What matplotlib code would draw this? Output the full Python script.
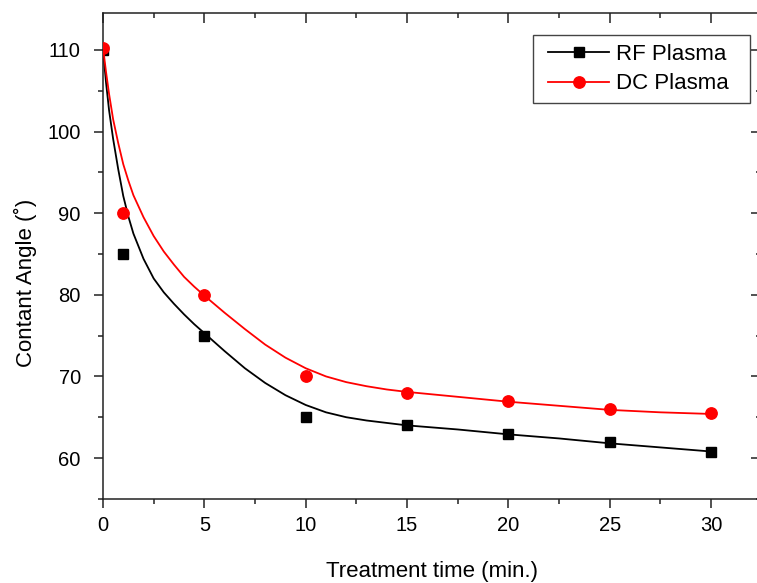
import matplotlib
matplotlib.use("Agg")
import matplotlib.pyplot as plt
from matplotlib.lines import Line2D
from matplotlib.patches import Rectangle
from matplotlib.ticker import MultipleLocator

plt.rcParams['font.family'] = ['Liberation Sans', 'DejaVu Sans']

# measured data
time_min = [0, 1, 5, 10, 15, 20, 25, 30]
rf_angle = [110.0, 85.0, 75.0, 65.0, 64.0, 63.0, 62.0, 60.8]
dc_angle = [110.2, 90.0, 80.0, 70.0, 68.0, 67.0, 66.0, 65.5]

# fitted curves
fit_t = [0, 0.15, 0.3, 0.5, 0.75, 1.0, 1.25, 1.5, 2.0, 2.5, 3.0, 3.5, 4.0, 4.5, 5.0, 6.0, 7.0, 8.0,
         9.0, 10.0, 11.0, 12.0, 13.0, 14.0, 15.0, 17.5, 20.0, 22.5, 25.0, 27.5, 30.0]
rf_fit = [110.0, 106.0, 102.6, 99.1, 95.4, 92.1, 89.6, 87.5, 84.4, 82.0, 80.3, 78.9, 77.6, 76.4,
          75.3, 73.1, 71.0, 69.2, 67.7, 66.5, 65.6, 65.0, 64.6, 64.3, 64.0, 63.5, 62.9, 62.4,
          61.8, 61.3, 60.8]
dc_fit = [110.3, 107.3, 104.6, 101.5, 98.6, 96.0, 94.0, 92.2, 89.5, 87.2, 85.3, 83.7, 82.2, 81.0,
          79.9, 77.8, 75.8, 73.9, 72.3, 71.0, 70.0, 69.3, 68.8, 68.4, 68.1, 67.5, 66.9, 66.4,
          65.9, 65.6, 65.4]

series_labels = ["RF Plasma", "DC Plasma"]
x_label = "Treatment time (min.)"
y_label = "Contant Angle (˚)"

fig = plt.figure(figsize=(7.57, 5.83), dpi=100)
W, H = 757, 583
L, R, T, B = 103, 761, 13, 499
ax = fig.add_axes([L / W, 1 - B / H, (R - L) / W, (B - T) / H])

ax.plot(fit_t, rf_fit, color='black', lw=1.3, zorder=2, solid_joinstyle='round')
ax.plot(time_min, rf_angle, ls='none', marker='s', ms=7, color='black', zorder=3)
ax.plot(fit_t, dc_fit, color='#ff0000', lw=1.3, zorder=4, solid_joinstyle='round')
ax.plot(time_min, dc_angle, ls='none', marker='o', ms=8.2, color='#ff0000', zorder=5)

ax.set_xlim(0, 32.46)
ax.set_ylim(54.98, 114.53)

spine_c = '#222222'
for s in ['left', 'bottom']:
    ax.spines[s].set_linewidth(1.1)
    ax.spines[s].set_color(spine_c)
ax.spines['top'].set_visible(False)
ax.spines['right'].set_visible(False)

ax.xaxis.set_major_locator(MultipleLocator(5))
ax.xaxis.set_minor_locator(MultipleLocator(2.5))
ax.set_yticks([60, 70, 80, 90, 100, 110])
ax.yaxis.set_minor_locator(MultipleLocator(5))

ax.tick_params(which='major', direction='out', length=6.5, width=1.1, color=spine_c,
               labelsize=14.5)
ax.tick_params(which='minor', direction='out', length=3.5, width=1.1, color=spine_c)
ax.tick_params(axis='x', which='major', pad=6)
ax.tick_params(axis='y', which='major', pad=9.5)

top = ax.secondary_xaxis('top')
top.xaxis.set_major_locator(MultipleLocator(5))
top.xaxis.set_minor_locator(MultipleLocator(2.5))
top.tick_params(which='major', direction='in', length=7, width=1.1, color=spine_c, labeltop=False)
top.tick_params(which='minor', direction='in', length=3.5, width=1.1, color=spine_c)
top.spines['top'].set_linewidth(1.1)
top.spines['top'].set_color(spine_c)

right = ax.secondary_yaxis('right')
right.set_yticks([60, 70, 80, 90, 100, 110])
right.yaxis.set_minor_locator(MultipleLocator(5))
right.tick_params(which='major', direction='in', length=7, width=1.1, color=spine_c, labelright=False)
right.tick_params(which='minor', direction='in', length=3.5, width=1.1, color=spine_c)
right.spines['right'].set_linewidth(1.1)
right.spines['right'].set_color(spine_c)

fig.text(432 / W, 1 - 572 / H, x_label, ha='center', va='center', fontsize=16)
fig.text(25 / W, 1 - 283 / H, y_label, ha='center', va='center', fontsize=16, rotation=90)

# legend frame
lx0, lx1, ly0, ly1 = 533, 750, 35, 103
fig.add_artist(Rectangle((lx0 / W, 1 - ly1 / H), (lx1 - lx0) / W, (ly1 - ly0) / H,
                         transform=fig.transFigure, facecolor='white', edgecolor='#444444',
                         linewidth=1.0, zorder=9))
handles = [
    Line2D([], [], color='black', lw=1.3, marker='s', ms=7),
    Line2D([], [], color='#ff0000', lw=1.3, marker='o', ms=8.2),
]
leg = fig.legend(handles, series_labels, loc='upper left',
                 bbox_to_anchor=(548 / W, 1 - 44 / H), borderaxespad=0, borderpad=0,
                 fontsize=16, frameon=False, handlelength=2.75, handletextpad=0.3,
                 labelspacing=0.38)
leg.set_zorder(10)

fig.savefig('out.png', dpi=100)
